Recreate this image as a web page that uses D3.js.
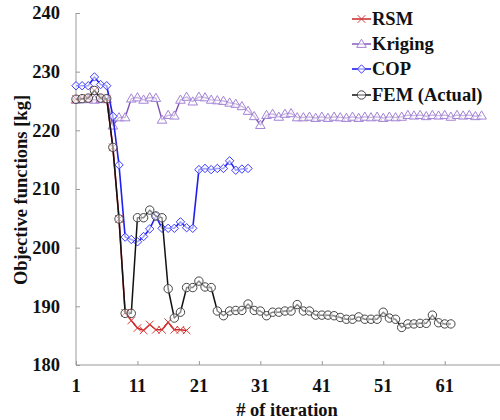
<!DOCTYPE html>
<html>
<head>
<meta charset="utf-8">
<script src="https://cdn.jsdelivr.net/npm/d3@7"></script>
<style>
  html, body { margin: 0; padding: 0; background: #fff; }
  svg { display: block; }
  text { font-family: "Liberation Serif", "Times New Roman", serif; font-weight: bold; fill: #111; }
</style>
</head>
<body>
<svg id="chart" width="500" height="420"></svg>
<script>
// ---- Data ----
const seriesNames = ["RSM", "Kriging", "COP", "FEM (Actual)"];

const rsmValues = [225.3, 225.4, 225.5, 226.8, 225.5, 225.4, 217.1, 204.9, 188.9, 187.6,
                   186.3, 185.9, 186.9, 186.0, 186.0, 187.3, 186.0, 186.0, 185.9];

const krigingValues = [225.2, 225.3, 225.3, 225.2, 225.3, 225.3, 220.8, 222.2, 222.2, 225.4,
                       225.6, 225.2, 225.6, 225.5, 221.8, 222.6, 222.5, 225.2, 225.7, 224.9,
                       225.7, 225.6, 225.2, 225.1, 225.0, 224.7, 224.5, 224.1, 223.3, 222.4,
                       220.9, 222.6, 222.8, 222.3, 222.8, 222.9, 222.2, 222.2, 222.3, 222.1,
                       222.3, 222.1, 222.3, 222.2, 222.1, 222.3, 222.1, 222.3, 222.2, 222.3,
                       222.1, 222.3, 222.2, 222.3, 222.6, 222.5, 222.6, 222.4, 222.6, 222.5,
                       222.6, 222.3, 222.6, 222.5, 222.6, 222.4, 222.5];

const copValues = [227.6, 227.6, 227.6, 229.1, 227.8, 227.6, 222.4, 214.1, 201.8, 201.4,
                   201.0, 201.9, 203.2, 205.4, 203.3, 203.3, 203.3, 204.4, 203.4, 203.3,
                   213.3, 213.5, 213.3, 213.5, 213.5, 214.8, 213.2, 213.4, 213.5];

const femValues = [225.3, 225.4, 225.5, 226.8, 225.5, 225.4, 217.1, 204.9, 188.8, 188.8,
                   205.1, 205.1, 206.4, 205.4, 205.1, 193.0, 188.0, 189.0, 193.2, 193.2,
                   194.3, 193.3, 193.2, 189.2, 188.4, 189.2, 189.3, 189.3, 190.4, 189.3,
                   189.2, 188.4, 189.0, 189.0, 189.2, 189.2, 190.3, 189.2, 189.2, 188.5,
                   188.5, 188.5, 188.4, 188.1, 187.8, 187.8, 188.2, 187.8, 187.8, 187.8,
                   189.0, 188.0, 187.8, 186.4, 187.0, 187.0, 187.1, 187.1, 188.5, 187.2,
                   187.0, 187.0];

const xTickValues = [1, 11, 21, 31, 41, 51, 61];
const yTickValues = [180, 190, 200, 210, 220, 230, 240];

// ---- Layout ----
const svg = d3.select("#chart");
const x = d3.scaleLinear().domain([1, 70]).range([76, 500]);
const y = d3.scaleLinear().domain([180, 240]).range([365, 13]);

const axisColor = "#999";

// Y axis (ticks pointing inward)
const yAxis = svg.append("g").attr("transform", `translate(${x(1)},0)`)
  .call(d3.axisRight(y).tickValues(yTickValues).tickSize(4).tickFormat(""));
yAxis.select(".domain").attr("stroke", axisColor).attr("d", `M0,${y(240)}V${y(180)}`);
yAxis.selectAll(".tick line").attr("stroke", axisColor);
svg.append("g").selectAll("text").data(yTickValues).join("text")
  .attr("x", 60).attr("y", d => y(d)).attr("dy", "0.35em")
  .attr("text-anchor", "end").attr("font-size", 18.5).text(d => d);

// X axis (ticks pointing up)
const xAxis = svg.append("g").attr("transform", `translate(0,${y(180)})`)
  .call(d3.axisTop(x).tickValues(xTickValues).tickSize(4).tickFormat(""));
xAxis.select(".domain").attr("stroke", axisColor).attr("d", `M${x(1)},0H${x(70)}`);
xAxis.selectAll(".tick line").attr("stroke", axisColor);
svg.append("g").selectAll("text").data(xTickValues).join("text")
  .attr("x", d => x(d)).attr("y", 392)
  .attr("text-anchor", "middle").attr("font-size", 18.5).text(d => d);

// Axis titles
svg.append("text").attr("x", 287).attr("y", 416).attr("text-anchor", "middle")
  .attr("font-size", 18.5).text("# of iteration");
svg.append("text").attr("transform", "translate(27,190) rotate(-90)")
  .attr("text-anchor", "middle").attr("font-size", 18.5).text("Objective functions [kg]");

// ---- Series ----
const series = [
  { name: seriesNames[1], values: krigingValues, color: "#7d50b4", mcolor: "#a383d6", marker: "triangle", width: 1.4 },
  { name: seriesNames[2], values: copValues, color: "#1f1fef", mcolor: "#3a3aff", marker: "diamond", width: 1.6 },
  { name: seriesNames[0], values: rsmValues, color: "#cc2424", mcolor: "#d83a3a", marker: "cross", width: 1.5 },
  { name: seriesNames[3], values: femValues, color: "#111111", mcolor: "#444", marker: "circle", width: 1.5 }
];

function drawMarker(g, type, color) {
  if (type === "triangle") {
    g.append("path").attr("d", "M0,-4.8L4.8,3.4L-4.8,3.4Z")
      .attr("fill", "#fff").attr("fill-opacity", 0.6).attr("stroke", color).attr("stroke-width", 1);
  } else if (type === "diamond") {
    g.append("path").attr("d", "M0,-4.2L4.2,0L0,4.2L-4.2,0Z")
      .attr("fill", "#fff").attr("fill-opacity", 0.6).attr("stroke", color).attr("stroke-width", 1);
  } else if (type === "cross") {
    g.append("path").attr("d", "M-3.8,-3.8L3.8,3.8M-3.8,3.8L3.8,-3.8")
      .attr("fill", "none").attr("stroke", color).attr("stroke-width", 1);
  } else {
    g.append("circle").attr("r", 4.2)
      .attr("fill", "#fff").attr("fill-opacity", 0.5).attr("stroke", color).attr("stroke-width", 1);
  }
}

const line = d3.line().x((d, i) => x(i + 1)).y(d => y(d));

series.forEach(s => {
  const g = svg.append("g");
  g.append("path").datum(s.values).attr("d", line)
    .attr("fill", "none").attr("stroke", s.color).attr("stroke-width", s.width)
    .attr("stroke-linejoin", "round");
  s.values.forEach((v, i) => {
    const m = g.append("g").attr("transform", `translate(${x(i + 1)},${y(v)})`);
    drawMarker(m, s.marker, s.mcolor);
  });
});

// ---- Legend ----
const legendOrder = [series[2], series[0], series[1], series[3]];
const legendY = [19, 44, 69, 95];
legendOrder.forEach((s, i) => {
  const g = svg.append("g").attr("transform", `translate(0,${legendY[i]})`);
  g.append("line").attr("x1", 352).attr("x2", 371).attr("y1", 0).attr("y2", 0)
    .attr("stroke", s.color).attr("stroke-width", s.width);
  const m = g.append("g").attr("transform", "translate(361.5,0)");
  drawMarker(m, s.marker, s.mcolor);
  g.append("text").attr("x", 372).attr("y", 0).attr("dy", "0.35em")
    .attr("font-size", 18.5).text(s.name);
});
</script>
</body>
</html>
